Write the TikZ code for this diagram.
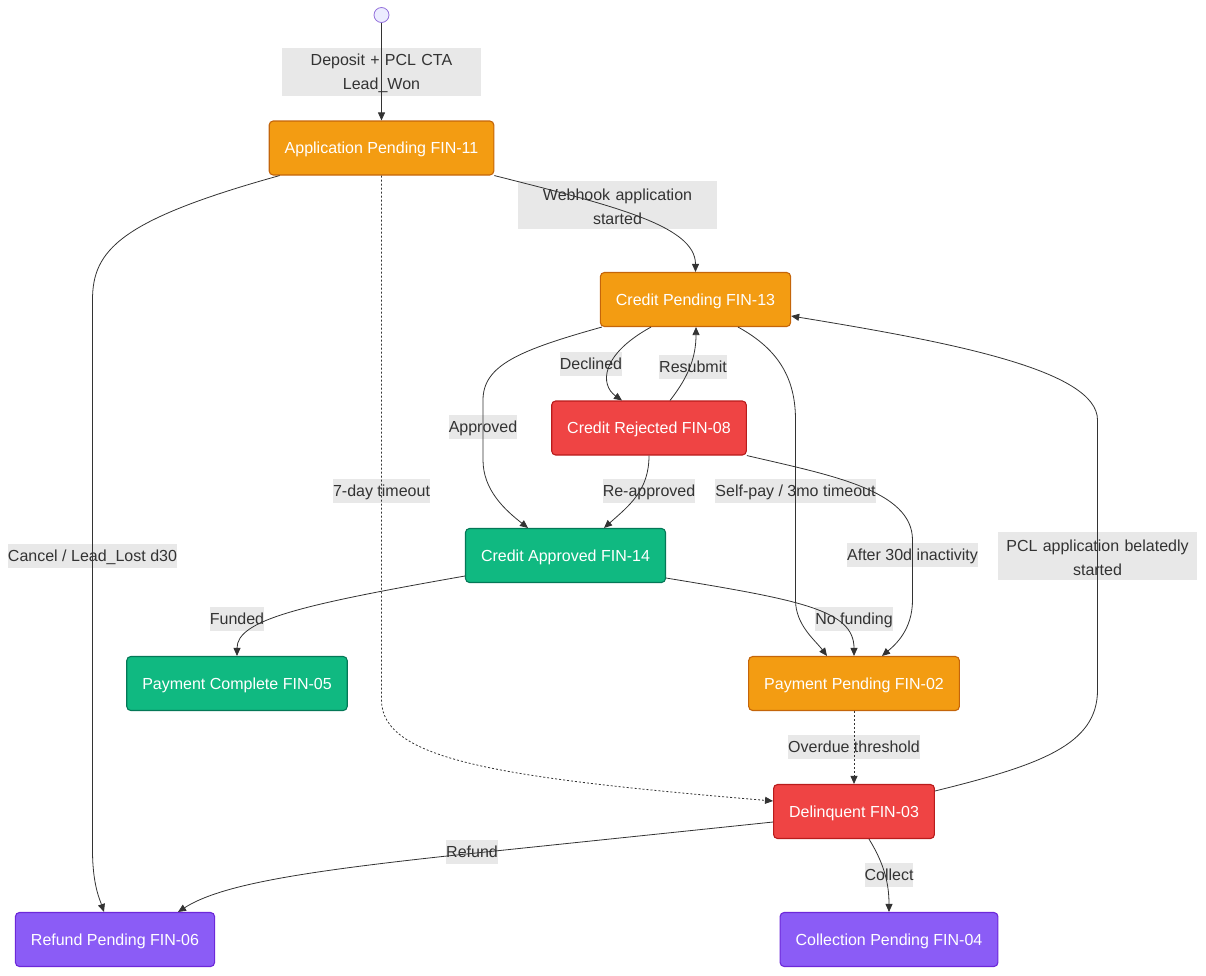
\documentclass[tikz,border=0pt]{standalone}
\usepackage{fontspec}
\setmainfont{Liberation Sans}
\usetikzlibrary{arrows.meta}
\definecolor{ink}{HTML}{333333}
\definecolor{lblbg}{HTML}{E8E8E8}
\definecolor{orfill}{HTML}{F39C12}
\definecolor{ordraw}{HTML}{C4650A}
\definecolor{rdfill}{HTML}{EF4444}
\definecolor{rddraw}{HTML}{B91C1C}
\definecolor{grfill}{HTML}{10B981}
\definecolor{grdraw}{HTML}{047857}
\definecolor{pufill}{HTML}{8B5CF6}
\definecolor{pudraw}{HTML}{6D28D9}
\definecolor{stfill}{HTML}{ECECFF}
\definecolor{stdraw}{HTML}{9370DB}
\tikzset{
  state/.style={rounded corners=4pt, line width=1.1pt, text=white, inner xsep=15.5pt, inner ysep=0pt,
    minimum height=54pt, text height=13pt, text depth=2pt, font=\fontsize{16}{19}\selectfont},
  orange/.style={state, fill=orfill, draw=ordraw},
  red/.style={state, fill=rdfill, draw=rddraw},
  green/.style={state, fill=grfill, draw=grdraw},
  purple/.style={state, fill=pufill, draw=pudraw},
  lbl/.style={fill=lblbg, text=ink, inner sep=0pt, minimum height=24pt, text height=13pt, text depth=2pt,
    font=\fontsize{16}{19}\selectfont},
  lbltwo/.style={fill=lblbg, text=ink, inner xsep=0pt, inner ysep=0pt, text width=199pt, align=center,
    minimum height=48pt, font=\fontsize{16}{24}\selectfont, execute at begin node={\rule{0pt}{15.5pt}}},
  edge/.style={draw=ink, line width=0.8pt, -{Triangle[length=8pt,width=7pt]}},
  dotedge/.style={edge, dash pattern=on 2pt off 2pt},
}
\begin{document}
\begin{tikzpicture}[x=1pt,y=-1pt]
\useasboundingbox (0,0) rectangle (1206,975);
% states
\node[circle, fill=stfill, draw=stdraw, line width=0.8pt, minimum size=15pt, inner sep=0pt] (start) at (381.5,15) {};
\node[orange] (app) at (381.5,148) {Application Pending FIN-11};
\node[orange] (cp) at (695.5,299.5) {Credit Pending FIN-13};
\node[red] (cr) at (649,428) {Credit Rejected FIN-08};
\node[green] (ca) at (565.5,555.5) {Credit Approved FIN-14};
\node[green] (pc) at (237,683.5) {Payment Complete FIN-05};
\node[orange] (pp) at (854,683.5) {Payment Pending FIN-02};
\node[red] (del) at (854,811.5) {Delinquent FIN-03};
\node[purple] (ref) at (115,939.5) {Refund Pending FIN-06};
\node[purple] (col) at (889,939.5) {Collection Pending FIN-04};
% labels
\node[lbltwo] (ldep) at (381.5,71.5) {Deposit + PCL CTA\\Lead\_Won};
\node[lbltwo] (lweb) at (617.5,204.5) {Webhook application\\started};
\node[lbl] (lcancel) at (92.5,555.5) {Cancel / Lead\_Lost d30};
\node[lbl] (lseven) at (381.5,491) {7-day timeout};
\node[lbl] (ldecl) at (591,364) {Declined};
\node[lbl] (lresub) at (693,367) {Resubmit};
\node[lbl] (lappr) at (483,427) {Approved};
\node[lbl] (lreappr) at (649,491) {Re-approved};
\node[lbl] (lself) at (795.5,491) {Self-pay / 3mo timeout};
\node[lbl] (lafter) at (912.5,555) {After 30d inactivity};
\node[lbltwo] (lpcl) at (1097.5,555.5) {PCL application belatedly\\started};
\node[lbl] (lfund) at (237,619) {Funded};
\node[lbl] (lnofund) at (854,619) {No funding};
\node[lbl] (lover) at (854,747) {Overdue threshold};
\node[lbl] (lrefund) at (472,852) {Refund};
\node[lbl] (lcollect) at (889,875) {Collect};
% edges
\draw[edge] (start) -- (app.north);
\draw[edge] (app.south east) .. controls (610,205) and (695.5,225) .. (cp.north);
\draw[edge] ([xshift=11pt]app.south west) .. controls (120,220) and (92.5,250) .. (92.5,300)
   -- (92.5,850) .. controls (92.5,885) and (100,900) .. ([xshift=-11pt]ref.north);
\draw[dotedge] (app.south) -- (381.5,700) .. controls (381.5,760) and (500,778) .. ([yshift=10.5pt]del.west);
\draw[edge] ([xshift=-44.5pt]cp.south) .. controls (600,355) and (600,385) .. ([xshift=-27pt]cr.north);
\draw[edge] ([xshift=21pt]cr.north) .. controls (690,375) and (696,355) .. ([xshift=0.5pt]cp.south);
\draw[edge] ([xshift=2pt]cp.south west) .. controls (520,350) and (483,365) .. (483,400)
   -- (483,460) .. controls (483,490) and (505,510) .. ([xshift=-37.5pt]ca.north);
\draw[edge] (cr.south) .. controls (649,490) and (630,505) .. ([xshift=38.5pt]ca.north);
\draw[edge] ([xshift=42.5pt]cp.south) .. controls (780,350) and (795.5,380) .. (795.5,420)
   -- (795.5,600) .. controls (795.5,625) and (815,640) .. ([xshift=-27pt]pp.north);
\draw[edge] (cr.south east) .. controls (830,475) and (912.5,490) .. (912.5,540)
   -- (912.5,600) .. controls (912.5,630) and (895,645) .. ([xshift=28pt]pp.north);
\draw[edge] ([yshift=-20.5pt]ca.west) .. controls (300,605) and (237,620) .. (pc.north);
\draw[edge] ([yshift=-22.5pt]ca.east) .. controls (800,600) and (854,610) .. (pp.north);
\draw[dotedge] (pp.south) -- (del.north);
\draw[edge] ([yshift=20.5pt]del.east) .. controls (1040,765) and (1097.5,745) .. (1097.5,690)
   -- (1097.5,420) .. controls (1097.5,370) and (950,342) .. ([yshift=-16.5pt]cp.east);
\draw[edge] ([yshift=-10.5pt]del.west) -- (447,856) .. controls (300,872) and (220,885) .. ([xshift=63pt]ref.north);
\draw[edge] ([xshift=15pt]del.south) .. controls (885,865) and (889,885) .. (col.north);
\end{tikzpicture}
\end{document}
